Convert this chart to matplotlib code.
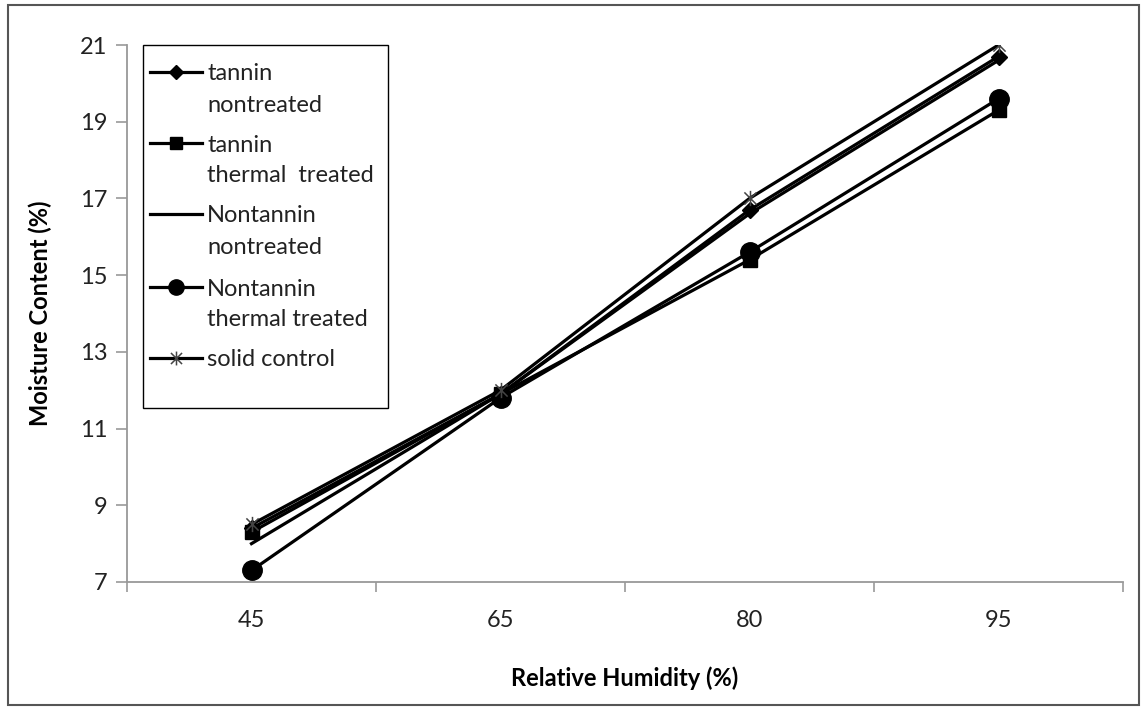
import matplotlib
matplotlib.use("Agg")
import matplotlib.pyplot as plt
from matplotlib.path import Path
from matplotlib.lines import Line2D
from matplotlib.patches import Rectangle

categories = ["45", "65", "80", "95"]
tannin_nontreated = [8.4, 11.9, 16.7, 20.7]
tannin_thermal = [8.3, 11.9, 15.4, 19.3]
nontannin_nontreated = [8.0, 11.9, 16.6, 20.6]
nontannin_thermal = [7.3, 11.8, 15.6, 19.6]
solid_control = [8.5, 12.0, 17.0, 21.0]
yticks = [7, 9, 11, 13, 15, 17, 19, 21]
labels = [["tannin", "nontreated"], ["tannin", "thermal  treated"], ["Nontannin", "nontreated"],
          ["Nontannin", "thermal treated"], ["solid control"]]

W, H = 1141, 707
fig = plt.figure(figsize=(W / 100, H / 100), dpi=100)
FONT = "Lato"
FS = 17

def fx(x):
    return x / W

def fy(y):
    return 1 - y / H

# chart border
fig.add_artist(Rectangle((fx(8), fy(705)), fx(1139) - fx(8), fy(5) - fy(705),
                         transform=fig.transFigure, fill=False, ec="#555555", lw=1.5))

left, right, top, bottom = 127, 1123, 45, 582
ax = fig.add_axes([fx(left), fy(bottom), fx(right) - fx(left), fy(top) - fy(bottom)])
x = list(range(len(categories)))

star = Path([(-1, -1), (1, 1), (-1, 1), (1, -1), (0, -1.25), (0, 1.25)],
            [Path.MOVETO, Path.LINETO, Path.MOVETO, Path.LINETO, Path.MOVETO, Path.LINETO])

lw = 2.3
styles = [
    dict(marker="D", ms=8, mfc="black", mec="black"),
    dict(marker="s", ms=10, mfc="black", mec="black"),
    dict(marker=None),
    dict(marker="o", ms=14, mfc="black", mec="black"),
    dict(marker=star, ms=11, mfc="none", mec="#444444", mew=1.1),
]
legend_ms = [7, 9, None, 11, 10]
series = [tannin_nontreated, tannin_thermal, nontannin_nontreated, nontannin_thermal, solid_control]
for s, st in zip(series, styles):
    ax.plot(x, s, color="black", lw=lw, **st)

ax.set_xlim(-0.5, len(categories) - 0.5)
ax.set_ylim(7, 21)
ax.set_yticks(yticks)
ax.set_yticklabels([str(v) for v in yticks], fontsize=FS, family=FONT, color="#222222")
ax.set_xticks(x)
ax.set_xticklabels(categories, fontsize=FS, family=FONT, color="#222222")
ax.set_xticks([i - 0.5 for i in range(len(categories) + 1)], minor=True)
ax.tick_params(axis="x", which="major", length=0, pad=20)
ax.tick_params(axis="x", which="minor", length=7, color="#999999", width=1.2, direction="out")
ax.tick_params(axis="y", length=8, color="#999999", width=1.2, pad=6)
for sp in ["top", "right"]:
    ax.spines[sp].set_visible(False)
for sp in ["left", "bottom"]:
    ax.spines[sp].set_color("#999999")
    ax.spines[sp].set_linewidth(1.3)
ax.set_xlabel("Relative Humidity (%)", fontsize=FS, family=FONT, fontweight="bold", labelpad=26)
ax.set_ylabel("Moisture Content (%)", fontsize=FS, family=FONT, fontweight="bold", labelpad=20)

# legend box
fig.add_artist(Rectangle((fx(143), fy(408)), fx(388) - fx(143), fy(45) - fy(408),
                         transform=fig.transFigure, fill=False, ec="black", lw=1.0))
entry_y = [72, 143, 214, 287, 358]
for yy, lab, st, lms in zip(entry_y, labels, styles, legend_ms):
    fig.add_artist(Line2D([fx(150), fx(202)], [fy(yy), fy(yy)], transform=fig.transFigure,
                          color="black", lw=lw))
    if st.get("marker") is not None:
        kw = dict(st)
        kw["ms"] = lms
        fig.add_artist(Line2D([fx(176)], [fy(yy)], transform=fig.transFigure,
                              color="black", lw=0, **kw))
    for i, line in enumerate(lab):
        fig.text(fx(207), fy(yy + 2 + 31 * i), line, transform=fig.transFigure, fontsize=FS,
                 family=FONT, color="#222222", va="center", ha="left")

fig.savefig("out.png", dpi=100)
